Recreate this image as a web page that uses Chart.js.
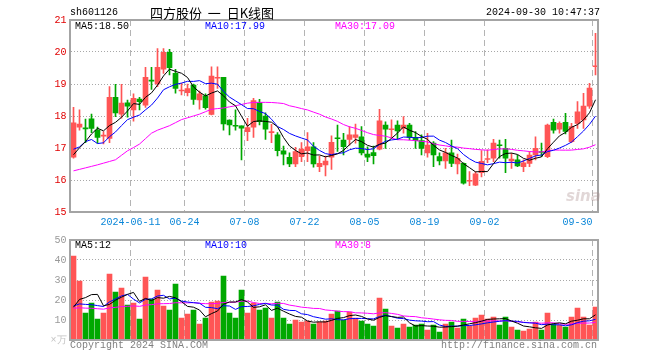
<!DOCTYPE html>
<html><head><meta charset="utf-8">
<script src="https://cdn.jsdelivr.net/npm/chart.js@4.4.1/dist/chart.umd.min.js"></script>
<style>
html,body{margin:0;padding:0;background:#fff;}
#wrap{position:relative;width:660px;height:360px;overflow:hidden;background:#fff;}
canvas{position:absolute;left:0;}
.t{position:absolute;font-family:"Liberation Mono","DejaVu Sans Mono",monospace;font-size:10px;line-height:12px;white-space:pre;color:#000;}
</style></head><body>
<div id="wrap">
<canvas id="c1" width="660" height="230" style="top:0;width:660px;height:230px"></canvas>
<canvas id="c2" width="660" height="130" style="top:230px;width:660px;height:130px"></canvas>
<div class="t" style="left:70px;top:7px;">sh601126</div>
<div class="t" style="left:150px;top:5px;font-family:'Noto Sans CJK SC',sans-serif;font-size:13px;line-height:16px;">四方股份  一  日K线图</div>
<div class="t" style="left:486px;top:7px;">2024-09-30 10:47:37</div>
<div class="t" style="left:75px;top:21px;">MA5:18.50</div>
<div class="t" style="left:205px;top:21px;color:#0000ff;">MA10:17.99</div>
<div class="t" style="left:335px;top:21px;color:#ff00ff;">MA30:17.09</div>
<div class="t" style="left:75px;top:240px;">MA5:12</div>
<div class="t" style="left:205px;top:240px;color:#0000ff;">MA10:10</div>
<div class="t" style="left:335px;top:240px;color:#ff00ff;">MA30:8</div>
<div class="t" style="left:70px;top:340px;color:#808080;">Copyright 2024 SINA.COM</div>
<div class="t" style="left:441px;top:340px;color:#808080;">http://finance.sina.com.cn</div>
<div class="t" style="left:566px;top:187px;font-family:'DejaVu Sans',sans-serif;font-size:15px;line-height:18px;font-weight:bold;font-style:italic;color:rgba(170,140,140,0.35);">sina</div>
</div>
<script>
// ---- data ----
const dates = ['05-27','05-28','05-29','05-30','05-31','06-03','06-04','06-05','06-06','06-07',
 '06-11','06-12','06-13','06-14','06-17','06-18','06-19','06-20','06-21','06-24',
 '06-25','06-26','06-27','06-28','07-01','07-02','07-03','07-04','07-05','07-08',
 '07-09','07-10','07-11','07-12','07-15','07-16','07-17','07-18','07-19','07-22',
 '07-23','07-24','07-25','07-26','07-29','07-30','07-31','08-01','08-02','08-05',
 '08-06','08-07','08-08','08-09','08-12','08-13','08-14','08-15','08-16','08-19',
 '08-20','08-21','08-22','08-23','08-26','08-27','08-28','08-29','08-30','09-02',
 '09-03','09-04','09-05','09-06','09-09','09-10','09-11','09-12','09-13','09-18',
 '09-19','09-20','09-23','09-24','09-25','09-26','09-27','09-30'];
const open = [16.71,17.65,17.63,17.91,17.56,17.37,17.30,18.58,18.06,18.41,
 18.19,18.53,18.34,19.11,19.00,19.46,19.99,19.33,18.78,18.73,
 18.97,18.50,18.63,18.05,19.18,19.21,17.87,17.70,17.69,17.51,
 17.65,18.42,18.00,17.48,17.41,16.91,16.71,16.50,16.73,16.92,
 17.04,16.42,16.47,16.71,17.31,17.25,17.27,17.33,17.35,16.81,
 16.86,16.96,17.72,17.57,17.72,17.61,17.72,17.33,17.23,16.85,
 17.15,16.73,16.60,16.85,16.50,16.52,15.96,15.84,16.23,16.64,
 16.68,17.08,16.99,16.60,16.63,16.42,16.52,16.78,16.88,16.73,
 17.80,17.59,17.80,17.20,17.77,17.88,18.31,19.54];
const high = [18.27,18.19,17.90,18.06,17.65,17.51,18.92,18.99,18.99,18.50,
 18.69,18.58,19.52,19.52,20.11,20.11,20.08,19.46,19.02,19.00,
 19.00,18.78,18.69,19.54,19.54,19.21,17.88,18.19,17.69,17.93,
 18.55,18.52,18.10,17.74,17.48,17.06,16.85,17.02,17.17,17.48,
 17.17,16.75,16.75,17.38,17.72,17.46,17.67,17.75,17.67,17.04,
 17.06,18.21,17.82,17.88,17.85,17.98,17.77,17.51,17.41,17.46,
 17.20,16.85,16.99,17.25,16.81,16.54,16.26,16.26,16.92,16.94,
 17.27,17.25,17.27,16.83,16.78,16.63,16.89,17.35,17.15,17.75,
 17.90,17.82,18.08,17.77,18.45,18.71,19.02,20.58];
const low = [16.68,17.56,17.17,17.48,17.15,17.13,17.17,17.98,17.93,17.96,
 17.84,18.19,18.27,18.83,18.92,19.33,19.28,18.71,18.66,18.63,
 18.36,18.21,18.21,18.03,18.86,17.56,17.41,17.56,16.63,17.23,
 17.33,17.72,17.27,17.17,16.75,16.47,16.42,16.42,16.57,16.57,
 16.40,16.26,16.13,16.33,16.89,16.78,17.09,17.15,16.78,16.57,
 16.50,16.94,16.99,17.33,17.27,17.46,17.25,16.99,16.78,16.71,
 16.42,16.47,16.36,16.42,16.19,15.87,15.82,15.82,16.10,16.54,
 16.57,16.68,16.23,16.36,16.42,16.26,16.42,16.63,16.73,16.70,
 17.46,17.46,17.44,17.17,17.61,17.61,18.24,19.28];
const close = [17.79,17.75,17.60,17.61,17.33,17.39,18.58,18.10,18.40,18.31,
 18.55,18.45,19.21,19.09,19.52,19.99,19.51,18.86,18.80,18.86,
 18.52,18.69,18.26,19.25,19.20,17.75,17.72,17.68,17.62,17.64,
 18.48,17.82,17.59,17.50,16.92,16.81,16.50,16.89,16.97,17.04,
 16.50,16.52,16.59,17.18,17.29,17.04,17.41,17.41,16.85,16.71,
 16.76,17.85,17.59,17.60,17.53,17.72,17.33,17.23,16.99,17.09,
 16.78,16.60,16.85,16.52,16.68,15.90,15.98,16.19,16.58,16.66,
 17.15,17.07,16.68,16.65,16.44,16.54,16.78,16.99,16.86,17.72,
 17.56,17.77,17.52,17.67,18.13,18.31,18.87,19.56];
const volume = [42,29.5,13.5,18.5,10.5,13.5,33,24,26,17.5,
 18.5,10.5,31.5,20.5,25,17,15,28,11,13,
 15,8,11,19,19.5,32,13.5,11,25,13.5,
 18.5,15,16,11,19,11,8,10,9,9.5,
 8,9,9.5,13,14.5,10,14,11,9.5,8,
 7,21,15.5,7,6,8,6.5,7.5,8,5,
 7.5,4,8,9,6,10.5,7,11,12.5,10.5,
 11.5,7.5,11.5,6.5,5,4.5,5.5,9,5,13.5,
 8,7.5,6.5,11.5,16,11.5,7.5,16.5];
// closes / volumes before the visible window, estimated from where the MA lines start
const priorCloses = [16.35,16.2,16.2,15.9,15.8,17.0,16.5,14.2,14.1,15.55,15.15,14.1,14.0,16.7,
 17.9,17.4,16.0,15.95,17.16,16.8,17.0,15.96,16.95,18.6,17.15,16.67,16.63,16.42,16.44];
const priorVolumes = [22,19,21,17,20,14,16,13,15,12,17,13,14,12,15,13,16,12,14,11,
 19,16,20,15,18,10,9,11,10];
const tickDates = ['06-11','06-24','07-08','07-22','08-05','08-19','09-02','09-30'];
const tickLabels = ['2024-06-11','06-24','07-08','07-22','08-05','08-19','09-02','09-30'];
const priceRange = [15, 21];
const volumeRange = [0, 50];
const volumeUnit = '×万';

// ---- derived ----
function movingAvg(prior, vals, n){
  const all = prior.concat(vals);
  return vals.map((_, i) => { const end = prior.length + i; let s = 0; for (let k = end - n + 1; k <= end; k++) s += all[k]; return s / n; });
}
const UP = '#ff5555', DOWN = '#00a800';
const colors = close.map((c, i) => c >= open[i] ? UP : DOWN);
const bodies = open.map((o, i) => [Math.min(o, close[i]), Math.max(o, close[i])]);
const wicks = low.map((l, i) => [l, high[i]]);
const tickIdx = new Map(tickDates.map((d, k) => [dates.indexOf(d), tickLabels[k]]));
const MONO = '"Liberation Mono","DejaVu Sans Mono",monospace';

const framePlugin = { id: 'frame', afterDatasetsDraw(chart) {
  const { ctx, chartArea: a } = chart;
  ctx.save(); ctx.strokeStyle = '#a4a4a4'; ctx.lineWidth = 2;
  ctx.strokeRect(Math.round(a.left - 0.5), a.top, Math.round(a.right - a.left), a.bottom - a.top);
  ctx.restore();
}};

function xAxis(showTicks) {
  return {
    type: 'category', offset: true,
    grid: { offset: true, drawTicks: false, lineWidth: 1,
      color: c => tickIdx.has(c.index) ? '#b4b4b4' : 'rgba(0,0,0,0)' },
    border: { display: false, dash: [6, 4] },
    ticks: { display: showTicks, autoSkip: false, maxRotation: 0, minRotation: 0, padding: 4, labelOffset: -3,
      color: '#0a86d8', font: { family: MONO, size: 10 },
      callback: (v, i) => tickIdx.has(i) ? (i === dates.length - 1 ? tickIdx.get(i) + '     ' : tickIdx.get(i)) : '' },
    afterFit: s => { s.height = showTicks ? 18 : 0; }
  };
}
function yAxis(min, max, step, color, fmt) {
  return {
    type: 'linear', min, max,
    grid: { drawTicks: false, lineWidth: 1,
      color: c => (c.tick && c.tick.value > min && c.tick.value < max) ? '#a8a8a8' : 'rgba(0,0,0,0)' },
    border: { display: false, dash: [1, 2] },
    ticks: { stepSize: step, padding: 4, color, font: { family: MONO, size: 10 }, callback: fmt },
    afterFit: s => { s.width = 70.5; }
  };
}
function lineDs(data, color) {
  return { type: 'line', data, borderColor: color, borderWidth: 1, pointRadius: 0, fill: false, tension: 0, order: 0 };
}
const common = { responsive: false, animation: false, events: [],
  plugins: { legend: { display: false }, tooltip: { enabled: false } } };

new Chart(document.getElementById('c1'), {
  type: 'bar',
  data: { labels: dates, datasets: [
    lineDs(movingAvg(priorCloses, close, 5), '#000000'),
    lineDs(movingAvg(priorCloses, close, 10), '#0000ff'),
    lineDs(movingAvg(priorCloses, close, 30), '#ff00ff'),
    { type: 'bar', data: bodies, backgroundColor: colors, barThickness: 5, grouped: false, minBarLength: 1, order: 1 },
    { type: 'bar', data: wicks, backgroundColor: colors, barThickness: 1, grouped: false, order: 2 }
  ]},
  options: Object.assign({}, common, {
    layout: { padding: { top: 20, right: 61.5, bottom: 0, left: 0 } },
    scales: { x: xAxis(true), y: yAxis(priceRange[0], priceRange[1], 1, '#e00000', v => String(v)) }
  }),
  plugins: [framePlugin]
});

const volY = yAxis(volumeRange[0], volumeRange[1], 10, '#999999', v => v === 0 ? volumeUnit : String(v));
volY.ticks.color = c => (c.tick && c.tick.value === 0) ? '#c4c4c4' : '#999999';
new Chart(document.getElementById('c2'), {
  type: 'bar',
  data: { labels: dates, datasets: [
    lineDs(movingAvg(priorVolumes, volume, 5), '#000000'),
    lineDs(movingAvg(priorVolumes, volume, 10), '#0000ff'),
    lineDs(movingAvg(priorVolumes, volume, 30), '#ff00ff'),
    { type: 'bar', data: volume, backgroundColor: colors, barThickness: 5, grouped: false, order: 1 }
  ]},
  options: Object.assign({}, common, {
    layout: { padding: { top: 10, right: 61.5, bottom: 20, left: 0 } },
    scales: { x: xAxis(false), y: volY }
  }),
  plugins: [framePlugin]
});
</script>
</body></html>
